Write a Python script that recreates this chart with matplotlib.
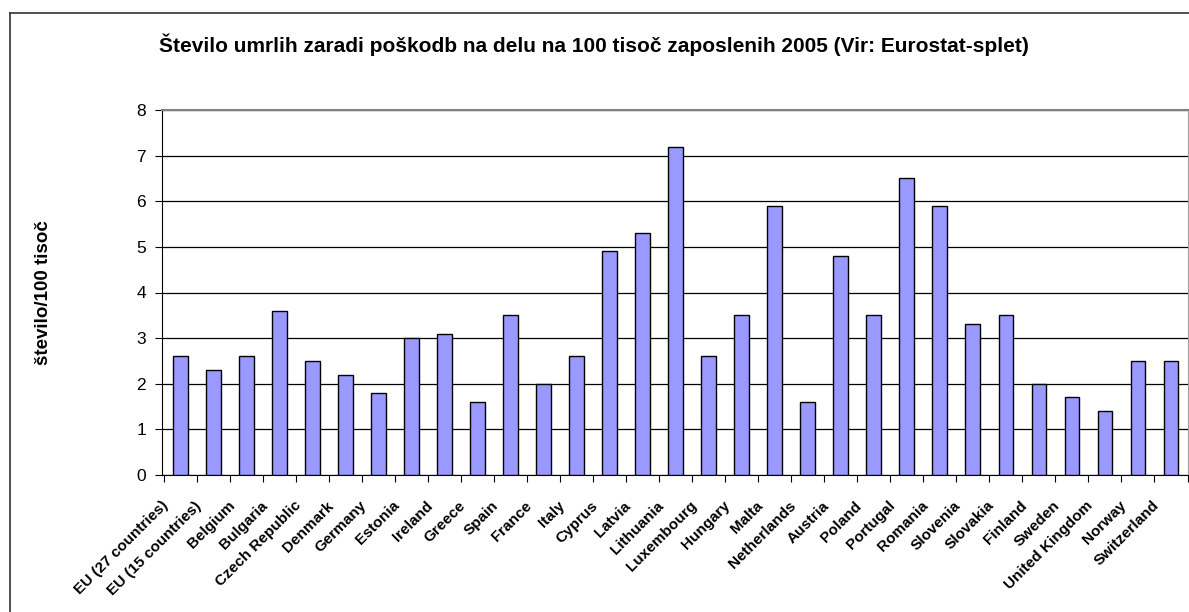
import matplotlib
matplotlib.use("Agg")
import matplotlib.pyplot as plt
from matplotlib.lines import Line2D

plt.rcParams['font.family'] = ['Liberation Sans', 'DejaVu Sans']

countries = ["EU (27 countries)", "EU (15 countries)", "Belgium", "Bulgaria",
             "Czech Republic", "Denmark", "Germany", "Estonia", "Ireland",
             "Greece", "Spain", "France", "Italy", "Cyprus", "Latvia",
             "Lithuania", "Luxembourg", "Hungary", "Malta", "Netherlands",
             "Austria", "Poland", "Portugal", "Romania", "Slovenia",
             "Slovakia", "Finland", "Sweden", "United Kingdom", "Norway",
             "Switzerland"]
values = [2.6, 2.3, 2.6, 3.6, 2.5, 2.2, 1.8, 3.0, 3.1, 1.6, 3.5, 2.0, 2.6,
          4.9, 5.3, 7.2, 2.6, 3.5, 5.9, 1.6, 4.8, 3.5, 6.5, 5.9, 3.3, 3.5,
          2.0, 1.7, 1.4, 2.5, 2.5]
yticks = [0, 1, 2, 3, 4, 5, 6, 7, 8]

W, H = 1189, 612
fig = plt.figure(figsize=(W / 100, H / 100), dpi=100)
ax = fig.add_axes([161.5 / W, 1 - 475 / H, 1026 / W, (475 - 110) / H])

x = list(range(len(countries)))
ax.bar(x, values, width=0.45, color="#9999ff", edgecolor="black", linewidth=1, zorder=3)

ax.set_xlim(-0.5, len(countries) - 0.5)
ax.set_ylim(0, 8)
ax.set_yticks(yticks)
ax.set_yticklabels([str(t) for t in yticks], fontsize=12.5)
ax.yaxis.grid(True, color="black", linewidth=0.9, zorder=0)

# tick marks on category boundaries, labels a little left of the bar centres
ax.set_xticks([i - 0.5 for i in x] + [len(countries) - 0.5])
ax.set_xticklabels([])
ax.set_xticks([i - 0.58 for i in x], minor=True)
ax.set_xticklabels(countries, minor=True, rotation=45, ha="right",
                   rotation_mode="anchor", fontsize=11, fontweight="bold")
ax.tick_params(axis="x", which="minor", length=0, pad=17)
ax.tick_params(axis="x", which="major", length=5, direction="out")
ax.tick_params(axis="y", length=5, direction="out", pad=6)

ax.spines["top"].set_color("#808080")
ax.spines["right"].set_color("#a0a0a0")
ax.spines["top"].set_linewidth(1.5)

ax.set_ylabel("število/100 tisoč", fontsize=13.5, fontweight="bold")
ax.yaxis.set_label_coords(-110 / 1026, 0.5)

fig.text(593.5 / W, 1 - 52 / H,
         "Število umrlih zaradi poškodb na delu na 100 tisoč zaposlenih 2005 (Vir: Eurostat-splet)",
         ha="center", va="baseline", fontsize=15, fontweight="bold")

# outer chart frame (right and bottom edges fall outside the picture)
fig.add_artist(Line2D([10 / W, 10 / W], [0, 1 - 12.5 / H], color="#333333", linewidth=1.2))
fig.add_artist(Line2D([10 / W, 1], [1 - 12.5 / H, 1 - 12.5 / H], color="#333333", linewidth=1.2))

plt.savefig("out.png", dpi=100)
